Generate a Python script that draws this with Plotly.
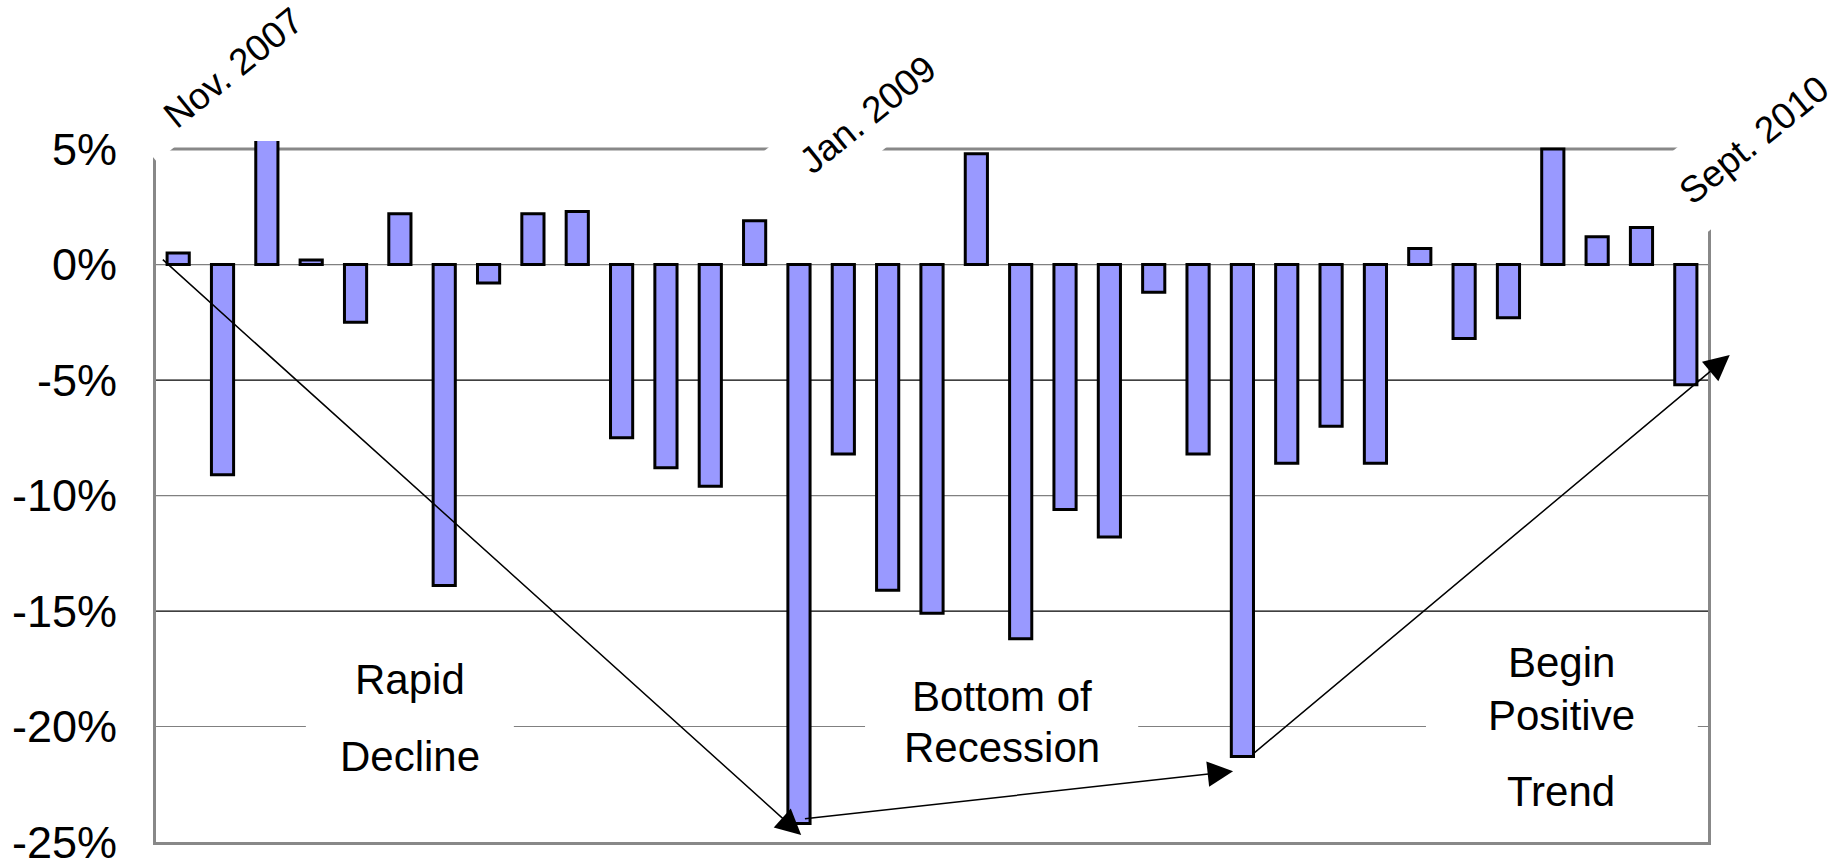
import pandas as pd
import plotly.graph_objects as go

# Monthly change, Nov 2007 - Sep 2010 (percent)
months = [p.strftime("%b %Y") for p in pd.period_range("2007-11", "2010-09", freq="M")]
changes = [
    0.5, -9.1, 5.6, 0.2, -2.5, 2.2, -13.9, -0.8, 2.2, 2.3,
    -7.5, -8.8, -9.6, 1.9, -24.2, -8.2, -14.1, -15.1, 4.8, -16.2,
    -10.6, -11.8, -1.2, -8.2, -21.3, -8.6, -7.0, -8.6, 0.7, -3.2,
    -2.3, 5.0, 1.2, 1.6, -5.2,
]
tick_values = [5, 0, -5, -10, -15, -20, -25]
tick_labels = ["5%", "0%", "-5%", "-10%", "-15%", "-20%", "-25%"]
period_labels = ["Nov. 2007", "Jan. 2009", "Sept. 2010"]
phase_lines = [["Rapid", "Decline"], ["Bottom of", "Recession"], ["Begin", "Positive", "Trend"]]

FONT = "Liberation Sans, Arial, sans-serif"
Y_TOP = 5.35          # slightly above 5% so the frame sits at 5%
Y_BOTTOM = -25
FRAME = "#888888"

fig = go.Figure()
fig.add_bar(
    x=months, y=changes, width=0.5,
    marker=dict(color="#9999FF", line=dict(color="black", width=3)),
    hovertemplate="%{x}: %{y:.1f}%<extra></extra>",
)

shapes = []
# horizontal reference lines at the tick levels inside the frame
inner = [v for v in tick_values if Y_BOTTOM < v < 5]
for k, v in enumerate(inner):
    shapes.append(dict(type="line", xref="paper", yref="y", x0=0, x1=1, y0=v, y1=v,
                       layer="below",
                       line=dict(color="#808080" if k % 2 == 0 else "#000000", width=1.2)))
# top edge of the frame at 5%
shapes.append(dict(type="line", xref="paper", yref="y", x0=0, x1=1, y0=5, y1=5,
                   layer="below", line=dict(color=FRAME, width=3)))
# white backing behind the phase captions (breaks the -20% line)
for x0, x1 in [(2.88, 7.57), (15.49, 21.65), (28.14, 34.27)]:
    shapes.append(dict(type="rect", xref="x", yref="y", x0=x0, x1=x1, y0=-20.5, y1=-19.5,
                       layer="below", fillcolor="white", line=dict(width=0)))

annotations = []
# rotated period labels with white text boxes
for text, px, py, w, h in [
    (period_labels[0], 0.0496, 1.1048, 236, 48),
    (period_labels[1], 0.4588, 1.0371, 212, 73),
    (period_labels[2], 1.0296, 1.0014, 190, 84),
]:
    annotations.append(dict(
        text=text, xref="paper", yref="paper", x=px, y=py, showarrow=False,
        textangle=-39, xanchor="center", yanchor="middle",
        width=w, height=h, borderpad=0, bgcolor="white",
        font=dict(family=FONT, size=37, color="black"),
    ))

# phase captions, one line each
caption_pos = [
    [(5.23, -17.97), (5.23, -21.31)],
    [(18.58, -18.71), (18.58, -20.92)],
    [(31.19, -17.24), (31.19, -19.54), (31.19, -22.83)],
]
for lines, poss in zip(phase_lines, caption_pos):
    for line, (cx, cy) in zip(lines, poss):
        annotations.append(dict(
            text=line, xref="x", yref="y", x=cx, y=cy, showarrow=False,
            xanchor="center", yanchor="middle",
            font=dict(family=FONT, size=42, color="black"),
        ))

# trend arrows, anchored on bars: (bar index, dx, dy) for tail and head
arrow_specs = [
    ((0, -0.38, 0.27), (14, 0.05, -0.5)),
    ((14, 0.1, 0.2), (24, -0.21, -0.64)),
    ((24, 0.2, 0.05), (34, 0.99, 1.28)),
]
for (ti, tdx, tdy), (hi, hdx, hdy) in arrow_specs:
    tail_y = (0 if ti == 0 else changes[ti]) + tdy
    annotations.append(dict(
        text="", xref="x", yref="y", axref="x", ayref="y",
        x=hi + hdx, y=changes[hi] + hdy, ax=ti + tdx, ay=tail_y,
        showarrow=True, arrowhead=2, arrowsize=3.4, arrowwidth=1.5,
        arrowcolor="black", standoff=0,
    ))

fig.update_layout(
    width=1844, height=861,
    margin=dict(l=156, r=136, t=141, b=19, autoexpand=False),
    paper_bgcolor="white", plot_bgcolor="rgba(0,0,0,0)",
    showlegend=False, bargap=0.5,
    shapes=shapes, annotations=annotations,
    font=dict(family=FONT, color="black"),
)
fig.update_xaxes(
    type="category", range=[-0.5, len(months) - 0.5], automargin=False,
    showticklabels=False, ticks="", showgrid=False, zeroline=False,
    showline=True, linecolor=FRAME, linewidth=3, mirror=False,
)
fig.update_yaxes(
    range=[Y_BOTTOM, Y_TOP], tickmode="array", tickvals=tick_values, ticktext=tick_labels,
    tickfont=dict(family=FONT, size=45, color="black"), ticks="", ticklabelstandoff=27,
    ticklabeloverflow="allow", automargin=False,
    showgrid=False, zeroline=False,
    showline=True, linecolor=FRAME, linewidth=3, mirror=True,
)

fig.write_html("out.html")
